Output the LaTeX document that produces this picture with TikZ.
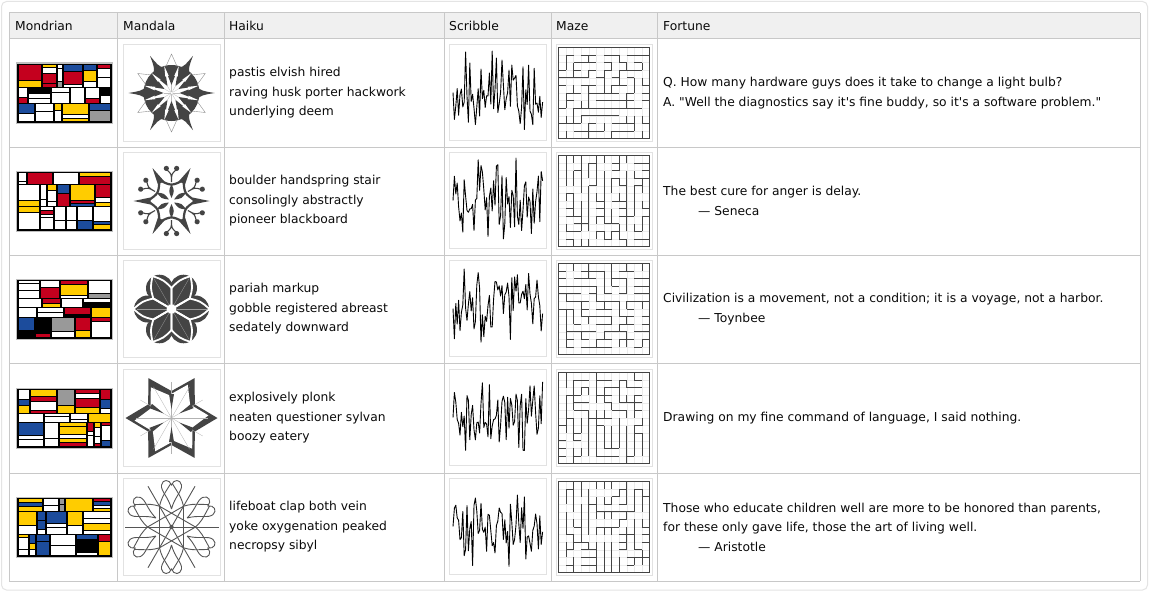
\documentclass[tikz,border=0pt]{standalone}
\usepackage{fontspec}
\setmainfont{DejaVu Sans}[Ligatures=TeXOff]
\definecolor{tline}{HTML}{C8C8C8}
\definecolor{thead}{HTML}{F0F0F0}
\definecolor{panel}{HTML}{E4E4E4}
\definecolor{boxl}{HTML}{E2E2E2}
\definecolor{mred}{HTML}{C4001E}
\definecolor{mblue}{HTML}{1C4C9C}
\definecolor{myellow}{HTML}{FFCC00}
\definecolor{mgray}{HTML}{999999}
\definecolor{mandc}{HTML}{444444}
\definecolor{mandl}{HTML}{555555}
\definecolor{mazec}{HTML}{444444}
\definecolor{mazef}{HTML}{EBEBEB}
\definecolor{txt}{HTML}{0A0A0A}
\newcount\mdy \newcount\mdx \newcount\mdh \newcount\mdw \newcount\mdz \newcount\mde
\newcount\mzi \newcount\mzj \newcount\mzs \newcount\mzt
\newcommand\mpick[1]{\ifcase#1\relax\def\mcol{white}\or\def\mcol{mred}\or\def\mcol{mred}\or\def\mcol{mred}\or\def\mcol{mblue}\or\def\mcol{mblue}\or\def\mcol{mblue}\or\def\mcol{myellow}\or\def\mcol{myellow}\or\def\mcol{myellow}\or\def\mcol{mgray}\or\def\mcol{black}\else\def\mcol{white}\fi}
\newcommand\mondrianpic[3]{%
  \pgfmathsetseed{#3}%
  \fill[black!25] ({#1-1},{#2-1}) rectangle ({#1+96},{#2+60});
  \fill[black] (#1,#2) rectangle ({#1+95},{#2+59});
  \mdy=1
  \loop
    \pgfmathrandominteger{\rh}{8}{24}%
    \mdh=\rh\relax
    \advance\mdh by \mdy
    \ifnum\mdh>50 \mdh=58 \fi
    {\mdx=1
     \loop
       \pgfmathrandominteger{\rw}{6}{28}%
       \mdw=\rw\relax \advance\mdw by \mdx
       \ifnum\mdw>86 \mdw=94 \fi
       {\mdz=\mdy
        \loop
          \pgfmathrandominteger{\rs}{3}{16}%
          \mde=\rs\relax \advance\mde by \mdz
          \advance\mde by 3
          \ifnum\mde>\mdh \mde=\mdh \else \advance\mde by -3 \fi
          \pgfmathrandominteger{\rc}{1}{20}%
          \mpick{\rc}%
          \fill[\mcol] ({#1+\the\mdx+0.7},{#2+\the\mdz+0.7}) rectangle ({#1+\the\mdw-0.7},{#2+\the\mde-0.7});
          \mdz=\mde
        \ifnum\mdz<\mdh \repeat}%
       \mdx=\mdw
     \ifnum\mdx<94 \repeat}%
    \mdy=\mdh
  \ifnum\mdy<58 \repeat
}
\newcommand\scribble[3]{%
  \draw[imgbox] (#1,#2) rectangle ++(97,96);
  \pgfmathsetseed{#3}%
  \draw[scribline] ({#1+4},{#2+48}) \foreach \i in {1,...,64}{ -- ({#1+4+\i*1.4},{#2+48+44*(2*rnd-1)*(0.45+0.55*rnd)}) };
}
\newcommand\maze[4]{%
  \draw[imgbox] (#1,#2) rectangle ++(96,97);
  \pgfmathsetseed{#3}%
  \begin{scope}[shift={({#1+2.4},{#2+2.9})}, rotate around={#4:(45.6,45.6)}]
    \foreach \k in {1,...,11}{\draw[mazefaint] ({\k*7.6},0) -- ++(0,91.2); \draw[mazefaint] (0,{\k*7.6}) -- ++(91.2,0);}
    \mzj=1
    \loop
     {\mzi=0 \mzs=0
      \loop
       \pgfmathrandominteger{\rr}{0}{2}%
       \ifnum\mzi=11 \def\rr{0}\fi
       \ifnum\rr=0
         \pgfmathrandominteger{\rk}{\the\mzs}{\the\mzi}%
         {\mzt=\mzs
          \loop
            \ifnum\mzt=\rk\relax\else \draw[mazewall] ({\the\mzt*7.6},{\the\mzj*7.6}) -- ++(7.6,0);\fi
            \advance\mzt by 1
          \ifnum\mzt<\numexpr\mzi+1\relax \repeat}%
         \ifnum\mzi<11 \draw[mazewall] ({(\the\mzi+1)*7.6},{\the\mzj*7.6}) -- ++(0,7.6);\fi
         \mzs=\mzi \advance\mzs by 1
       \fi
       \advance\mzi by 1
      \ifnum\mzi<12 \repeat}%
     \advance\mzj by 1
    \ifnum\mzj<12 \repeat
    \draw[mazewall] (0,0) rectangle (91.2,91.2);
  \end{scope}
}
\newcommand\mandalaA[2]{%
  \begin{scope}[shift={(#1,#2)}]
    \fill[mandc] (0,0) circle (28);
    \foreach \a in {0,60,...,300}{\fill[mandc,rotate=\a] (25,-6) .. controls (31,-2) .. (43,0) .. controls (31,2) .. (25,6) -- cycle;}
    \foreach \a in {30,90,...,330}{\draw[black!45,line width=0.4pt,rotate=\a] (-12:27) -- (39,0) -- (12:27);}
    \fill[white] (0,0) circle (16);
    \foreach \a in {15,45,...,345}{\fill[white,rotate=\a] (12,-2.6) -- (28,0) -- (12,2.6) -- cycle;}
    \foreach \a in {0,30,...,330}{\fill[mandc,rotate=\a] (17,-3.5) -- (8,0) -- (17,3.5) -- cycle; \draw[black!25,line width=0.3pt,rotate=\a] (1,0) -- (8,0);}
  \end{scope}}
\newcommand\mandalaB[2]{%
  \begin{scope}[shift={(#1,#2)}]
    \foreach \a in {0,60,...,300}{%
      \draw[mandc,line width=2.2pt,rotate=\a] (0:24) .. controls (30:15) .. (60:24);
      \fill[mandc,rotate=\a] (21,-3.5) -- (38,0) -- (21,3.5) -- cycle;}
    \foreach \a in {30,90,...,330}{%
      \draw[mandc,line width=1.1pt,rotate=\a] (19,0) .. controls (27,0) .. (-9:32) (19,0) .. controls (27,0) .. (9:32);
      \fill[mandc,rotate=\a] (-9:33) circle (2.6) (9:33) circle (2.6);
      \fill[mandc,rotate=\a] (3,0) .. controls (10,-3) .. (17,0) .. controls (10,3) .. (3,0) -- cycle;}
  \end{scope}}
\newcommand\mandalaC[2]{%
  \begin{scope}[shift={(#1,#2)}]
    \fill[mandc] (0,0) circle (25);
    \foreach \a in {0,60,...,300}{\fill[mandc] (\a:24) circle (13.5);}
    \foreach \a in {0,60,...,300}{\draw[white,line width=1.8pt,line join=round,rotate=\a] (0,0) -- (30:21) .. controls (15:30) .. (0:38) .. controls (-15:30) .. (-30:21) -- cycle;
      \draw[black!40,line width=0.3pt,rotate=\a] (5,0) -- (35,0);}
    \fill[white] (0:5) -- (60:5) -- (120:5) -- (180:5) -- (240:5) -- (300:5) -- cycle;
  \end{scope}}
\newcommand\mandalaD[2]{%
  \begin{scope}[shift={(#1,#2)}]
    \fill[mandc] (0:46) \foreach \a in {30,90,...,330}{ -- (\a:27) -- ({\a+30}:46)} -- cycle;
    \fill[white] (-4:37) \foreach \a in {30,90,...,330}{ -- ({\a-6}:23) -- ({\a+26}:37)} -- cycle;
    \foreach \a in {0,30,...,330}{\draw[black!30,line width=0.3pt] (0,0) -- (\a:36);}
    \foreach \a in {30,90,...,330}{\fill[mandc,rotate=\a] (24,-2.5) -- (9,0) -- (24,2.5) -- cycle;}
  \end{scope}}
\newcommand\mandalaE[2]{%
  \begin{scope}[shift={(#1,#2)}]
    \foreach \a in {0,60,120}{\draw[mline] (\a:47) -- ({\a+180}:47);}
    \foreach \a in {30,90,...,330}{\draw[mline,rotate=\a] (18,0) .. controls (30,-3) and (36,-11) .. (42,-10) .. controls (48,-9) and (48,-2) .. (42,0) .. controls (48,2) and (48,9) .. (42,10) .. controls (36,11) and (30,3) .. (18,0);}
    \draw[mline] (0:24) -- (120:24) -- (240:24) -- cycle (60:24) -- (180:24) -- (300:24) -- cycle;
    \foreach \a in {0,60,...,300}{\draw[mline,rotate=\a] (24,0) .. controls (30,-6) .. (38,-21) (24,0) .. controls (30,6) .. (38,21);}
    \fill[mandl] (0,0) circle (2.2);
  \end{scope}}
\begin{document}
\begin{tikzpicture}[x=1pt,y=-1pt,
  gridline/.style={draw=tline,line width=1pt},
  headtxt/.style={anchor=west,inner sep=0pt,text=txt,font=\fontsize{12.3}{19.5}\selectfont},
  celltxt/.style={anchor=west,inner sep=0pt,text=txt,align=left,font=\fontsize{12.3}{19.5}\selectfont},
  imgbox/.style={draw=boxl,line width=1pt},
  scribline/.style={draw=black,line width=0.9pt,line join=round},
  mazewall/.style={draw=mazec,line width=0.8pt},
  mazefaint/.style={draw=mazef,line width=0.4pt},
  mline/.style={draw=mandl,line width=0.9pt}]
\useasboundingbox (0,0) rectangle (1150,610);
\fill[white] (0,0) rectangle (1150,610);
\draw[panel,line width=1pt,rounded corners=5pt] (1.5,1.5) rectangle (1147.5,590);
% table
\fill[thead] (9,13) rectangle (1140,39);
\foreach \yy in {13,39,147,255,363,473,581}{\draw[gridline] (9,\yy) -- (1140,\yy);}
\foreach \xx in {9,117,224,444,551,657,1140}{\draw[gridline] (\xx,13) -- (\xx,581);}
% headers
\node[headtxt] (hmon) at (15,26) {Mondrian};
\node[headtxt] (hman) at (123,26) {Mandala};
\node[headtxt] (hhai) at (229,26) {Haiku};
\node[headtxt] (hscr) at (449,26) {Scribble};
\node[headtxt] (hmaz) at (556,26) {Maze};
\node[headtxt] (hfor) at (663,26) {Fortune};
% row 1
\mondrianpic{17}{63.5}{11}
\draw[imgbox] (123,44.5) rectangle ++(97,97);
\mandalaA{171.5}{93}
\scribble{449}{44.5}{21}
\maze{556}{44.5}{31}{0}
\node[celltxt] (hk1) at (229,93) {pastis elvish hired\\raving husk porter hackwork\\underlying deem};
\node[celltxt] (ft1) at (663,93) {Q. How many hardware guys does it take to change a light bulb?\\A. "Well the diagnostics say it's fine buddy, so it's a software problem."};
% row 2
\mondrianpic{17}{171.5}{12}
\draw[imgbox] (123,152.5) rectangle ++(97,97);
\mandalaB{171.5}{201}
\scribble{449}{152.5}{22}
\maze{556}{152.5}{32}{90}
\node[celltxt] (hk2) at (229,201) {boulder handspring stair\\consolingly abstractly\\pioneer blackboard};
\node[celltxt] (ft2) at (663,201) {The best cure for anger is delay.\\\hspace*{35pt}— Seneca};
% row 3
\mondrianpic{17}{279.5}{13}
\draw[imgbox] (123,260.5) rectangle ++(97,97);
\mandalaC{171.5}{309}
\scribble{449}{260.5}{23}
\maze{556}{260.5}{33}{180}
\node[celltxt] (hk3) at (229,309) {pariah markup\\gobble registered abreast\\sedately downward};
\node[celltxt] (ft3) at (663,309) {Civilization is a movement, not a condition; it is a voyage, not a harbor.\\\hspace*{35pt}— Toynbee};
% row 4
\mondrianpic{17}{388.5}{14}
\draw[imgbox] (123,369.5) rectangle ++(97,97);
\mandalaD{171.5}{418}
\scribble{449}{369.5}{24}
\maze{556}{369.5}{34}{270}
\node[celltxt] (hk4) at (229,418) {explosively plonk\\neaten questioner sylvan\\boozy eatery};
\node[celltxt] (ft4) at (663,418) {Drawing on my fine command of language, I said nothing.};
% row 5
\mondrianpic{17}{497.5}{15}
\draw[imgbox] (123,478.5) rectangle ++(97,97);
\mandalaE{171.5}{527}
\scribble{449}{478.5}{25}
\maze{556}{478.5}{35}{90}
\node[celltxt] (hk5) at (229,527) {lifeboat clap both vein\\yoke oxygenation peaked\\necropsy sibyl};
\node[celltxt] (ft5) at (663,527) {Those who educate children well are more to be honored than parents,\\for these only gave life, those the art of living well.\\\hspace*{35pt}— Aristotle};
\end{tikzpicture}
\end{document}
